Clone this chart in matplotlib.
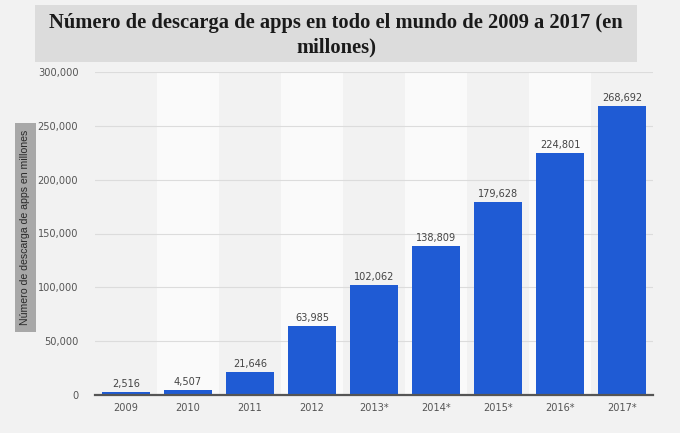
import matplotlib
matplotlib.use("Agg")
import matplotlib.pyplot as plt
from matplotlib.patches import Rectangle
from matplotlib import font_manager as fm

years = ["2009", "2010", "2011", "2012", "2013*", "2014*", "2015*", "2016*", "2017*"]
downloads = [2516, 4507, 21646, 63985, 102062, 138809, 179628, 224801, 268692]
yticks = [0, 50000, 100000, 150000, 200000, 250000, 300000]
title = "Número de descarga de apps en todo el mundo de 2009 a 2017 (en\nmillones)"
ylabel = "Número de descarga de apps en millones"

bg = "#f2f2f2"

fig = plt.figure(figsize=(6.8, 4.33), dpi=100, facecolor=bg)
W, H = 680, 433
ax = fig.add_axes([95 / W, 1 - 395 / H, (653 - 95) / W, (395 - 72) / H])
ax.set_facecolor(bg)

x = list(range(len(years)))
for i in x:
    if i % 2 == 1:
        ax.axvspan(i - 0.5, i + 0.5, color="#fafafa", zorder=0, lw=0)

fp = fm.FontProperties(family="DejaVu Sans", stretch="condensed", size=7.8)

ax.set_ylim(0, 300000)
ax.set_xlim(-0.5, len(years) - 0.5)
ax.set_yticks(yticks)
ax.set_yticklabels([f"{v:,}" for v in yticks], fontproperties=fp, color="#555555")
ax.yaxis.grid(True, color="#dcdcdc", lw=0.8, zorder=1)
ax.set_axisbelow(True)

ax.bar(x, downloads, width=0.78, color="#1f5bd4", zorder=3)
for xi, v in zip(x, downloads):
    ax.text(xi, v + 2800, f"{v:,}", ha="center", va="bottom", fontproperties=fp,
            color="#444444", zorder=4)

ax.set_xticks(x)
ax.set_xticklabels(years, fontproperties=fp, color="#555555")
ax.tick_params(axis="both", length=0)
ax.tick_params(axis="x", pad=6)
ax.tick_params(axis="y", pad=12)
for s in ["top", "right", "left"]:
    ax.spines[s].set_visible(False)
ax.spines["bottom"].set_color("#555555")
ax.spines["bottom"].set_linewidth(1.6)
ax.spines["bottom"].set_zorder(5)

fig.patches.append(Rectangle((35 / W, 1 - 62 / H), (637 - 35) / W, 57 / H,
                             transform=fig.transFigure, facecolor="#dcdcdc",
                             edgecolor="none", zorder=0))
fig.text(336 / W, 1 - 35 / H, title, ha="center", va="center",
         family=["Liberation Serif", "DejaVu Serif"], fontweight="bold",
         fontsize=14.8, color="#1a1a1a", linespacing=1.3)

fig.patches.append(Rectangle((15 / W, 1 - 332 / H), 21 / W, 209 / H,
                             transform=fig.transFigure, facecolor="#a8a8a8",
                             edgecolor="none", zorder=0))
fig.text(25.5 / W, 1 - 227.5 / H, ylabel, rotation=90, ha="center", va="center",
         family=["Liberation Sans", "DejaVu Sans"], fontsize=7.6, color="#2a2a2a")

fig.savefig("out.png", dpi=100, facecolor=bg)
